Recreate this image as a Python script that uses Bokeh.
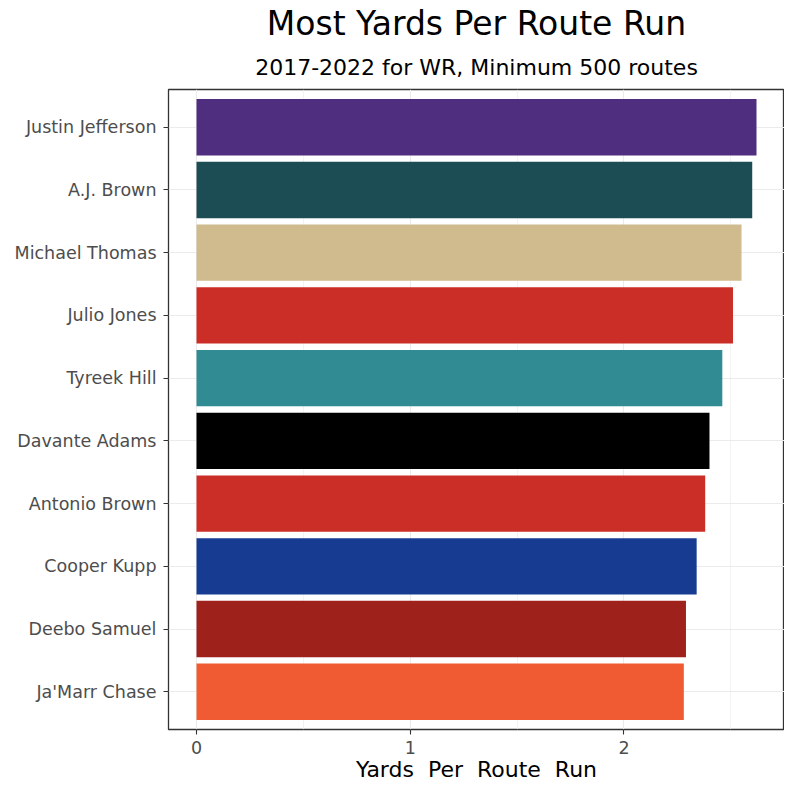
from bokeh.plotting import figure
from bokeh.models import Range1d, FactorRange, FixedTicker, Title, ColumnDataSource
from bokeh.embed import file_html
from bokeh.resources import INLINE

players = ["Justin Jefferson", "A.J. Brown", "Michael Thomas", "Julio Jones", "Tyreek Hill",
           "Davante Adams", "Antonio Brown", "Cooper Kupp", "Deebo Samuel", "Ja'Marr Chase"]
yprr = [2.62, 2.60, 2.55, 2.51, 2.46, 2.40, 2.38, 2.34, 2.29, 2.28]
colors = ["#4F2D7F", "#1C4C54", "#D0BB8F", "#CB2E26", "#318B93",
          "#000000", "#CB2E26", "#163B91", "#9F211C", "#F05B33"]
x_ticks = [0, 1, 2]
x_minor = [0.5, 1.5, 2.5]

FONT = "DejaVu Sans"

src = ColumnDataSource(dict(player=players, yprr=yprr, color=colors))

xmax = max(yprr)
p = figure(width=784, height=784, output_backend="svg", toolbar_location=None,
           x_range=Range1d(-0.05 * xmax, 1.05 * xmax),
           y_range=FactorRange(factors=list(reversed(players)), range_padding=0.02),
           min_border_left=168, min_border_right=0, min_border_top=89, min_border_bottom=52)

p.title.text = "Most Yards Per Route Run"
p.title.align = "center"
p.title.text_font = FONT
p.title.text_font_size = "33px"
p.title.text_font_style = "normal"
p.title.text_color = "#000000"
p.title.standoff = 0
p.add_layout(Title(text="2017-2022 for WR, Minimum 500 routes", align="center", text_font=FONT,
                   text_font_size="22px", text_font_style="normal", text_color="#000000",
                   standoff=20), "above")

p.hbar(y="player", right="yprr", left=0, height=0.9, fill_color="color",
       line_color=None, source=src)

p.background_fill_color = "white"
p.border_fill_color = "white"
p.outline_line_color = "#333333"
p.outline_line_width = 1.3

p.xaxis.ticker = FixedTicker(ticks=x_ticks, minor_ticks=x_minor)
p.xgrid.grid_line_color = "#EBEBEB"
p.xgrid.grid_line_width = 1.1
p.xgrid.minor_grid_line_color = "#EBEBEB"
p.xgrid.minor_grid_line_width = 0.6
p.ygrid.grid_line_color = "#EBEBEB"
p.ygrid.grid_line_width = 1.1

for ax in (p.xaxis, p.yaxis):
    ax.axis_line_color = None
    ax.major_tick_line_color = "#333333"
    ax.major_tick_line_width = 1.1
    ax.major_tick_in = 0
    ax.major_tick_out = 5
    ax.minor_tick_line_color = None
    ax.major_label_text_font = FONT
    ax.major_label_text_font_size = "17.5px"
    ax.major_label_text_color = "#4D4D4D"

p.xaxis.major_label_standoff = 6
p.yaxis.major_label_standoff = 7
p.xaxis.axis_label = "Yards\u00a0 Per\u00a0 Route\u00a0 Run"
p.xaxis.axis_label_text_font = FONT
p.xaxis.axis_label_text_font_size = "22px"
p.xaxis.axis_label_text_font_style = "normal"
p.xaxis.axis_label_text_color = "#000000"
p.xaxis.axis_label_standoff = 0

open("out.html", "w").write(file_html(p, INLINE))
